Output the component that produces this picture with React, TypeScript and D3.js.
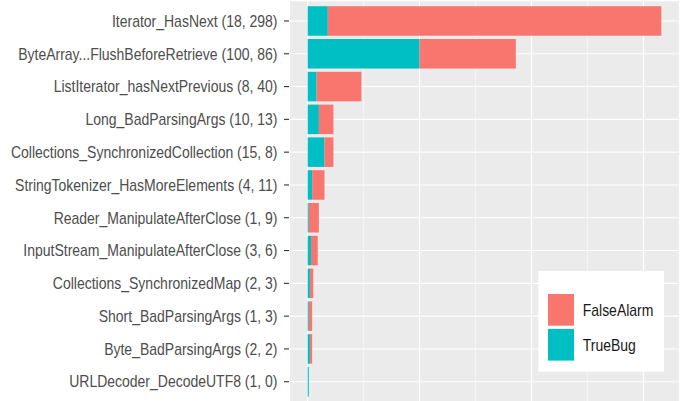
import React from "react";
import * as d3 from "d3";

const categories = [
  "Iterator_HasNext (18, 298)",
  "ByteArray...FlushBeforeRetrieve (100, 86)",
  "ListIterator_hasNextPrevious (8, 40)",
  "Long_BadParsingArgs (10, 13)",
  "Collections_SynchronizedCollection (15, 8)",
  "StringTokenizer_HasMoreElements (4, 11)",
  "Reader_ManipulateAfterClose (1, 9)",
  "InputStream_ManipulateAfterClose (3, 6)",
  "Collections_SynchronizedMap (2, 3)",
  "Short_BadParsingArgs (1, 3)",
  "Byte_BadParsingArgs (2, 2)",
  "URLDecoder_DecodeUTF8 (1, 0)",
];
const trueBug = [18, 100, 8, 10, 15, 4, 1, 3, 2, 1, 2, 1];
const falseAlarm = [298, 86, 40, 13, 8, 11, 9, 6, 3, 3, 2, 0];
const seriesNames = ["FalseAlarm", "TrueBug"];
const seriesColors = ["#F8766D", "#00BFC4"];
const majorTicks = [0, 100, 200, 300];
const minorTicks = [50, 150, 250];

const W = 686;
const H = 401;
const panelLeft = 290;
const panelRight = 679;
const panelTop = 1.3;
const panelBottom = 401.4;
const FONT = "'Liberation Sans', Arial, Helvetica, sans-serif";
const FS = 16;
const SX = 0.875;

export default function App() {
  const totals = trueBug.map((t, i) => t + falseAlarm[i]);
  const maxT = d3.max(totals) as number;
  const pad = maxT * 0.05;
  const x = d3.scaleLinear().domain([-pad, maxT + pad]).range([panelLeft, panelRight]);
  const n = categories.length;
  const step = (panelBottom - panelTop) / (n + 0.2);
  const yCenter = (i: number) => panelTop + step * (0.6 + i);
  const barH = step * 0.9;

  return (
    <svg width={W} height={H} style={{ position: "absolute", left: 0, top: 0 }}>
      <rect x={0} y={0} width={W} height={H} fill="#fff" />
      <rect x={panelLeft} y={panelTop} width={panelRight - panelLeft} height={panelBottom - panelTop} fill="#EBEBEB" />
      {minorTicks.map((t) => (
        <line key={"mi" + t} x1={x(t)} x2={x(t)} y1={panelTop} y2={panelBottom} stroke="#fff" strokeWidth={0.55} />
      ))}
      {majorTicks.map((t) => (
        <line key={"ma" + t} x1={x(t)} x2={x(t)} y1={panelTop} y2={panelBottom} stroke="#fff" strokeWidth={1.1} />
      ))}
      {categories.map((c, i) => (
        <line key={"h" + i} x1={panelLeft} x2={panelRight} y1={yCenter(i)} y2={yCenter(i)} stroke="#fff" strokeWidth={1.1} />
      ))}
      {categories.map((c, i) => (
        <g key={"b" + i}>
          <rect x={x(0)} y={yCenter(i) - barH / 2} width={x(trueBug[i]) - x(0)} height={barH} fill={seriesColors[1]} />
          <rect x={x(trueBug[i])} y={yCenter(i) - barH / 2} width={x(totals[i]) - x(trueBug[i])} height={barH} fill={seriesColors[0]} />
        </g>
      ))}
      {categories.map((c, i) => (
        <g key={"l" + i}>
          <line x1={panelLeft - 6} x2={panelLeft - 1} y1={yCenter(i)} y2={yCenter(i)} stroke="#333" strokeWidth={1.1} />
          <text
            transform={`translate(${panelLeft - 12.5},${yCenter(i)}) scale(${SX},1)`}
            dy="0.36em"
            textAnchor="end"
            fontFamily={FONT}
            fontSize={FS}
            fill="#4D4D4D"
          >
            {c}
          </text>
        </g>
      ))}
      <g>
        <rect x={538.3} y={271} width={125.7} height={100.7} fill="#fff" />
        {seriesNames.map((s, i) => (
          <g key={s}>
            <rect x={548} y={294 + i * 34.9} width={26} height={31.7} fill={seriesColors[i]} />
            <text
              transform={`translate(582.7,${294 + i * 34.9 + 15.85}) scale(${SX},1)`}
              dy="0.36em"
              fontFamily={FONT}
              fontSize={FS}
              fill="#1a1a1a"
            >
              {s}
            </text>
          </g>
        ))}
      </g>
    </svg>
  );
}
